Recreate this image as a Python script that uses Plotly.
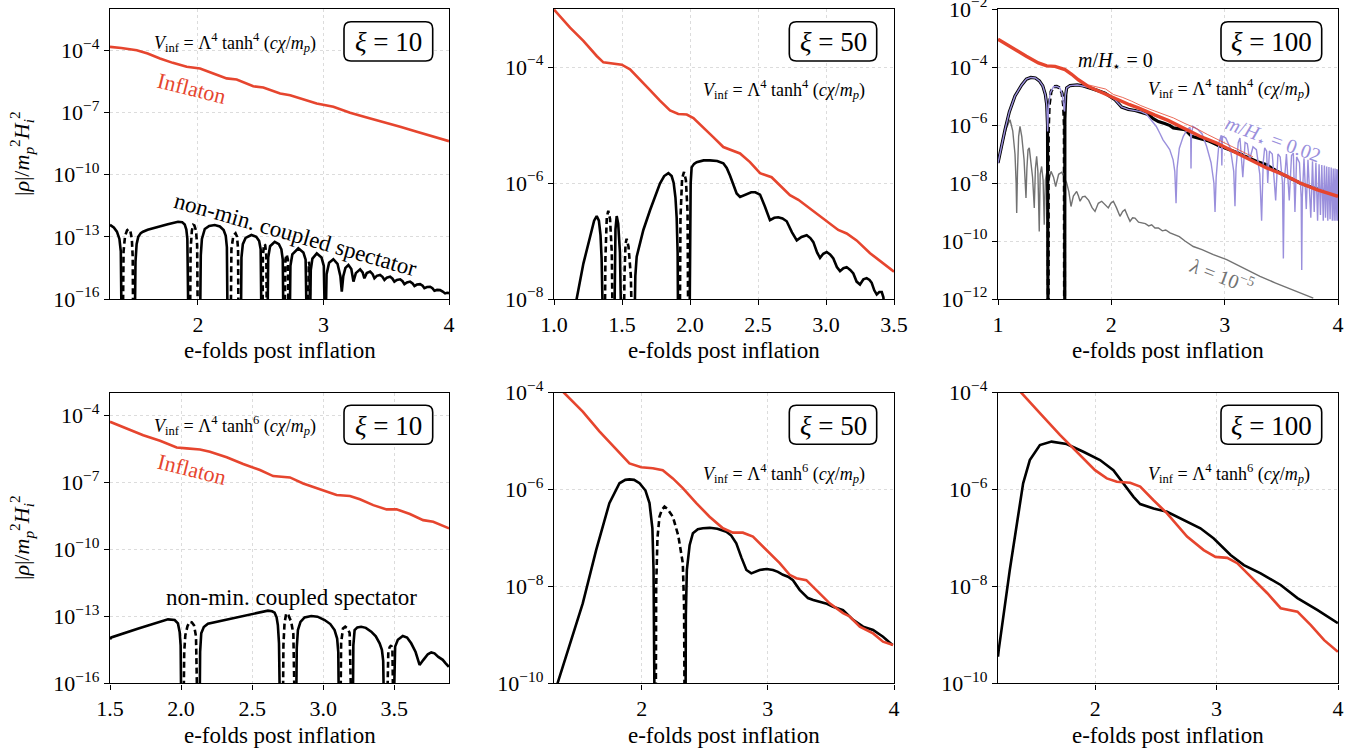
import plotly.graph_objects as go

# ---------------- DATA (x = e-folds, y = log10 |rho|) ----------------
# Panel 1 : tanh^4, xi = 10
p1_inf_x = [1.30, 1.39, 1.513, 1.60, 1.698, 1.80, 1.911, 2.017, 2.123, 2.229, 2.309, 2.441, 2.521, 2.655, 2.735, 2.868, 2.946, 3.079, 3.212, 3.345, 3.478, 3.611, 3.744, 3.876, 4.0]
p1_inf_y = [-3.83, -3.88, -3.99, -4.15, -4.39, -4.60, -4.79, -4.87, -5.11, -5.35, -5.40, -5.73, -5.79, -6.08, -6.16, -6.40, -6.56, -6.72, -7.01, -7.24, -7.45, -7.69, -7.93, -8.17, -8.38]
p1_pos_x = [[1.300, 1.330, 1.355, 1.375, 1.386, 1.392],
            [1.498, 1.503, 1.512, 1.525, 1.545, 1.563, 1.60, 1.682, 1.760, 1.842, 1.875, 1.895, 1.908, 1.916, 1.921, 1.924],
            [2.018, 2.023, 2.032, 2.055, 2.09, 2.134, 2.175, 2.205, 2.222, 2.231, 2.236],
            [2.343, 2.347, 2.358, 2.38, 2.426, 2.465, 2.488, 2.500, 2.506],
            [2.555, 2.560, 2.575, 2.612, 2.645, 2.665, 2.676, 2.681],
            [2.732, 2.737, 2.752, 2.800, 2.840, 2.858, 2.866],
            [2.894, 2.899, 2.912, 2.947, 2.985, 3.003, 3.011],
            [3.018, 3.025, 3.045, 3.079, 3.112, 3.135, 3.146, 3.158, 3.175, 3.199, 3.222, 3.239, 3.258, 3.292, 3.312, 3.326,
             3.345, 3.372, 3.392, 3.406, 3.425, 3.451, 3.470, 3.486, 3.505, 3.531, 3.550, 3.565, 3.585, 3.611, 3.630, 3.645,
             3.665, 3.690, 3.710, 3.725, 3.745, 3.770, 3.790, 3.804, 3.825, 3.850, 3.868, 3.884, 3.905, 3.929, 3.950, 3.969, 3.985, 4.0]]
p1_pos_y = [[-12.42, -12.55, -12.75, -13.1, -13.7, -17],
            [-17, -14.2, -13.35, -13.0, -12.82, -12.75, -12.66, -12.51, -12.39, -12.27, -12.29, -12.40, -12.65, -13.1, -14.2, -17],
            [-17, -13.9, -13.1, -12.62, -12.47, -12.43, -12.50, -12.67, -12.95, -13.5, -17],
            [-17, -14.0, -13.35, -13.05, -12.91, -13.0, -13.2, -13.6, -17],
            [-17, -14.0, -13.45, -13.24, -13.35, -13.6, -14.1, -17],
            [-17, -14.4, -13.85, -13.55, -13.75, -14.1, -17],
            [-17, -14.6, -14.05, -13.80, -14.0, -14.4, -17],
            [-17, -14.8, -14.25, -14.08, -14.3, -14.9, -15.65, -14.9, -14.5, -14.36, -14.55, -15.16, -14.75, -14.57, -14.72, -15.0,
             -14.75, -14.68, -14.8, -15.0, -14.88, -14.84, -14.93, -15.08, -14.97, -14.92, -15.02, -15.16, -15.08, -15.05, -15.14, -15.28,
             -15.2, -15.16, -15.25, -15.37, -15.3, -15.28, -15.36, -15.48, -15.42, -15.41, -15.48, -15.60, -15.56, -15.57, -15.64, -15.73, -15.70, -15.72]]
p1_neg_x = [[1.403, 1.408, 1.420, 1.436, 1.449, 1.462, 1.474, 1.481, 1.484],
            [1.938, 1.942, 1.952, 1.963, 1.972, 1.985, 1.994, 1.999],
            [2.262, 2.267, 2.282, 2.300, 2.312, 2.320, 2.323],
            [2.515, 2.518, 2.527, 2.536, 2.545, 2.549],
            [2.692, 2.697, 2.707, 2.717, 2.722],
            [2.874, 2.878, 2.884, 2.890, 2.893]]
p1_neg_y = [[-17, -13.7, -12.95, -12.68, -12.62, -12.72, -13.1, -14.0, -17],
            [-17, -13.6, -12.7, -12.42, -12.45, -12.7, -13.4, -17],
            [-17, -13.6, -12.95, -12.83, -13.0, -13.6, -17],
            [-17, -13.9, -13.35, -13.4, -13.9, -17],
            [-17, -14.1, -13.85, -14.1, -17],
            [-17, -14.3, -14.2, -14.4, -17]]

# Panel 2 : tanh^4, xi = 50
p2_inf_x = [1.0, 1.118, 1.216, 1.314, 1.363, 1.436, 1.498, 1.559, 1.632, 1.706, 1.779, 1.853, 1.914, 1.976, 2.025, 2.098, 2.171, 2.245, 2.318, 2.368, 2.441, 2.515, 2.600, 2.662, 2.735, 2.797, 2.882, 2.956, 3.029, 3.090, 3.152, 3.225, 3.324, 3.421, 3.5]
p2_inf_y = [-3.01, -3.32, -3.55, -3.81, -3.92, -3.94, -3.96, -4.04, -4.21, -4.40, -4.58, -4.75, -4.81, -4.82, -4.88, -5.04, -5.21, -5.38, -5.44, -5.49, -5.64, -5.83, -5.90, -6.04, -6.21, -6.29, -6.44, -6.56, -6.70, -6.81, -6.87, -6.99, -7.21, -7.39, -7.53]
p2_pos_x = [[1.142, 1.216, 1.265, 1.295, 1.314, 1.330, 1.342, 1.350, 1.356, 1.358],
            [1.441, 1.445, 1.452, 1.461, 1.472, 1.485, 1.493, 1.498],
            [1.588, 1.598, 1.608, 1.630, 1.657, 1.706, 1.745, 1.779, 1.810, 1.841, 1.865, 1.880, 1.893, 1.902, 1.909, 1.914],
            [1.995, 1.999, 2.005, 2.012, 2.030, 2.049, 2.100, 2.147, 2.200, 2.245, 2.270, 2.294, 2.320, 2.343, 2.368, 2.390, 2.417,
             2.450, 2.480, 2.515, 2.550, 2.588, 2.620, 2.649, 2.680, 2.711, 2.750, 2.785, 2.820, 2.858, 2.885, 2.907, 2.935, 2.956,
             2.980, 3.005, 3.030, 3.054, 3.080, 3.103, 3.128, 3.152, 3.178, 3.201, 3.225, 3.250, 3.275, 3.299, 3.320, 3.336, 3.355,
             3.373, 3.392, 3.410, 3.422, 3.430]]
p2_pos_y = [[-8.3, -7.39, -6.93, -6.65, -6.57, -6.65, -6.9, -7.3, -8.0, -9],
            [-9, -7.5, -6.8, -6.57, -6.7, -7.2, -7.8, -9],
            [-9, -7.6, -7.27, -7.05, -6.81, -6.47, -6.22, -6.01, -5.88, -5.83, -5.88, -6.0, -6.25, -6.6, -7.2, -9],
            [-9, -6.6, -6.0, -5.73, -5.67, -5.64, -5.61, -5.61, -5.62, -5.66, -5.74, -5.87, -6.05, -6.18, -6.24, -6.22, -6.19,
             -6.16, -6.16, -6.20, -6.40, -6.64, -6.60, -6.59, -6.61, -6.66, -6.85, -6.99, -6.93, -6.90, -6.95, -7.02, -7.2, -7.29,
             -7.22, -7.19, -7.23, -7.30, -7.45, -7.52, -7.47, -7.45, -7.50, -7.56, -7.70, -7.75, -7.66, -7.64, -7.67, -7.72, -7.85,
             -7.92, -7.88, -7.88, -7.97, -8.2]]
p2_neg_x = [[1.372, 1.378, 1.388, 1.399, 1.412, 1.425, 1.434],
            [1.512, 1.518, 1.526, 1.534, 1.548, 1.565, 1.578],
            [1.924, 1.930, 1.942, 1.956, 1.970, 1.982, 1.988]]
p2_neg_y = [[-9, -7.3, -6.6, -6.48, -6.62, -7.2, -9],
            [-9, -7.6, -7.05, -6.96, -7.1, -7.6, -9],
            [-9, -6.6, -5.92, -5.81, -5.95, -6.5, -9]]

# Panel 3 : tanh^4, xi = 100
p3_inf_x = [1.0, 1.150, 1.250, 1.356, 1.430, 1.503, 1.591, 1.650, 1.709, 1.797, 1.870, 1.944, 2.020, 2.091, 2.160, 2.238, 2.300, 2.380, 2.500, 2.635, 2.782, 2.929, 3.076, 3.224, 3.371, 3.518, 3.665, 3.812, 4.0]
p3_inf_y = [-3.04, -3.40, -3.63, -3.86, -3.96, -3.98, -4.09, -4.25, -4.44, -4.67, -4.80, -4.90, -5.05, -5.19, -5.30, -5.41, -5.52, -5.65, -5.84, -6.10, -6.39, -6.62, -6.91, -7.20, -7.48, -7.71, -8.00, -8.23, -8.46]
p3_inf2_x = [1.80, 1.88, 1.95, 2.02, 2.10, 2.18, 2.26, 2.35, 2.45, 2.55, 2.65, 2.75, 2.85, 2.95, 3.05, 3.15, 3.25]
p3_inf2_y = [-4.62, -4.70, -4.76, -4.95, -5.05, -5.18, -5.33, -5.47, -5.62, -5.76, -5.95, -6.12, -6.33, -6.52, -6.70, -6.90, -7.10]
p3_pos_x = [[1.000, 1.030, 1.062, 1.100, 1.150, 1.209, 1.250, 1.290, 1.330, 1.365, 1.395, 1.418, 1.430, 1.437, 1.441],
            [1.589, 1.590, 1.598, 1.606, 1.635, 1.700, 1.738, 1.800, 1.856, 1.944, 2.032, 2.091, 2.150, 2.209, 2.270, 2.326, 2.370,
             2.415, 2.470, 2.518, 2.547, 2.600, 2.650, 2.709, 2.760, 2.812, 2.860, 2.900, 2.950, 3.003, 3.050, 3.091, 3.140, 3.179,
             3.230, 3.282, 3.330, 3.371, 3.420, 3.459, 3.500, 3.547, 3.600, 3.665, 3.720, 3.782, 3.840, 3.900, 3.950, 4.0]]
p3_pos_y = [[-7.31, -6.7, -6.16, -5.55, -5.0, -4.62, -4.42, -4.36, -4.38, -4.48, -4.65, -4.95, -5.3, -6.0, -12.5],
            [-12.5, -5.8, -4.95, -4.72, -4.64, -4.62, -4.64, -4.70, -4.78, -4.90, -5.13, -5.38, -5.46, -5.50, -5.56, -5.64, -5.78,
             -5.88, -5.95, -6.02, -6.10, -6.13, -6.16, -6.39, -6.44, -6.48, -6.55, -6.62, -6.72, -6.79, -6.86, -6.91, -7.0, -7.08,
             -7.18, -7.26, -7.32, -7.37, -7.50, -7.60, -7.68, -7.77, -7.88, -8.00, -8.09, -8.17, -8.23, -8.29, -8.36, -8.42]]
p3_neg_x = [[1.443, 1.444, 1.452, 1.468, 1.490, 1.518, 1.545, 1.565, 1.578, 1.585, 1.587]]
p3_neg_y = [[-12.5, -6.2, -5.3, -4.85, -4.68, -4.67, -4.72, -4.9, -5.3, -6.0, -12.5]]
p3_mass_x = [1.000, 1.030, 1.062, 1.100, 1.150, 1.209, 1.250, 1.290, 1.330, 1.365, 1.395, 1.418, 1.430, 1.438, 1.446, 1.460,
             1.490, 1.518, 1.545, 1.565, 1.578, 1.587, 1.594, 1.606, 1.635, 1.700, 1.800, 1.944, 2.032, 2.091, 2.150, 2.209,
             2.260, 2.309, 2.356, 2.397, 2.430, 2.456, 2.490, 2.515, 2.545, 2.560, 2.571, 2.580, 2.600, 2.635, 2.670, 2.694,
             2.700, 2.703, 2.707, 2.720, 2.760, 2.800, 2.841, 2.880, 2.905, 2.915, 2.925, 2.950, 2.970, 2.975, 2.981, 3.010,
             3.050, 3.080, 3.091, 3.100, 3.120, 3.135, 3.160, 3.180, 3.200, 3.220, 3.250, 3.280, 3.310, 3.326, 3.340, 3.353,
             3.370, 3.380, 3.395, 3.420, 3.450, 3.470, 3.490, 3.510, 3.518, 3.526, 3.545, 3.570, 3.590, 3.606, 3.620, 3.635,
             3.660, 3.675, 3.680, 3.685, 3.700, 3.720, 3.735, 3.760, 3.775, 3.790, 3.805, 3.820, 3.833, 3.845, 3.857, 3.870,
             3.880, 3.890, 3.900, 3.910, 3.920, 3.930, 3.940, 3.950, 3.958, 3.966, 3.974, 3.982, 3.990, 3.997, 4.0]
p3_mass_y = [-7.31, -6.7, -6.16, -5.55, -5.0, -4.62, -4.42, -4.36, -4.38, -4.48, -4.65, -4.95, -5.3, -6.22, -5.4, -4.9,
             -4.68, -4.67, -4.72, -4.9, -5.2, -5.53, -5.0, -4.72, -4.64, -4.62, -4.70, -4.90, -5.13, -5.38, -5.46, -5.50,
             -5.54, -5.62, -5.85, -6.05, -6.3, -6.51, -6.7, -6.85, -7.2, -7.6, -8.7, -7.5, -6.8, -6.39, -6.15, -6.08,
             -6.3, -7.5, -6.3, -6.05, -6.15, -6.3, -6.74, -7.3, -8.0, -9.0, -7.8, -6.6, -6.35, -7.4, -6.38, -6.45,
             -6.8, -7.6, -8.8, -7.5, -6.6, -6.45, -7.8, -6.6, -6.65, -7.2, -6.75, -6.85, -7.7, -9.3, -7.3, -6.79,
             -6.9, -8.0, -6.9, -7.0, -8.6, -7.0, -7.1, -8.0, -10.6, -8.0, -7.0, -8.6, -7.05, -6.97, -9.0, -7.1,
             -7.3, -8.5, -11.0, -8.5, -7.15, -8.9, -7.2, -9.2, -7.25, -9.0, -7.3, -9.3, -7.35, -9.1, -7.38, -9.3,
             -7.4, -9.2, -7.43, -9.3, -7.45, -9.25, -7.47, -9.3, -7.5, -9.3, -7.5, -9.3, -7.52, -9.3, -7.54]
p3_self_x = [1.000, 1.040, 1.075, 1.106, 1.130, 1.150, 1.160, 1.165, 1.172, 1.182, 1.194, 1.210, 1.230, 1.240, 1.247, 1.255,
             1.265, 1.276, 1.290, 1.305, 1.320, 1.330, 1.341, 1.352, 1.364, 1.372, 1.385, 1.398, 1.408, 1.418, 1.429, 1.444,
             1.468, 1.490, 1.509, 1.535, 1.562, 1.590, 1.606, 1.625, 1.644, 1.665, 1.694, 1.710, 1.724, 1.745, 1.768, 1.800,
             1.830, 1.856, 1.885, 1.915, 1.945, 1.973, 1.995, 2.018, 2.045, 2.076, 2.100, 2.120, 2.145, 2.165, 2.188, 2.209,
             2.240, 2.268, 2.300, 2.330, 2.356, 2.385, 2.415, 2.450, 2.480, 2.518, 2.560, 2.600, 2.650, 2.723, 2.800, 2.900,
             3.018, 3.150, 3.312, 3.450, 3.600, 3.782]
p3_self_y = [-7.31, -6.6, -6.1, -5.82, -6.2, -7.0, -8.0, -9.03, -7.6, -6.4, -6.05, -6.4, -7.2, -7.8, -8.52, -7.5,
             -6.85, -6.79, -7.2, -7.8, -8.86, -7.5, -7.08, -7.6, -9.67, -7.7, -7.43, -7.9, -9.44, -7.9, -7.66, -8.0,
             -7.60, -7.8, -8.12, -7.7, -7.63, -7.85, -8.00, -8.3, -8.81, -8.45, -8.29, -8.45, -8.63, -8.48, -8.46, -8.6,
             -8.85, -8.98, -8.7, -8.63, -8.75, -8.86, -8.7, -8.63, -8.85, -9.15, -8.98, -8.92, -9.15, -9.32, -9.2, -9.21,
             -9.35, -9.38, -9.40, -9.48, -9.44, -9.55, -9.55, -9.65, -9.62, -9.72, -9.80, -9.85, -10.0, -10.19, -10.3, -10.47,
             -10.64, -10.9, -11.22, -11.45, -11.68, -11.97]

# Panel 4 : tanh^6, xi = 10
p4_inf_x = [1.5, 1.617, 1.734, 1.852, 1.969, 2.039, 2.133, 2.203, 2.321, 2.437, 2.555, 2.648, 2.766, 2.859, 2.977, 3.094, 3.188, 3.258, 3.352, 3.446, 3.516, 3.610, 3.703, 3.774, 3.886]
p4_inf_y = [-4.30, -4.60, -4.90, -5.15, -5.45, -5.49, -5.54, -5.64, -5.89, -6.19, -6.46, -6.73, -6.79, -7.06, -7.32, -7.58, -7.62, -7.77, -8.03, -8.22, -8.22, -8.43, -8.70, -8.77, -9.07]
p4_pos_x = [[1.50, 1.509, 1.70, 1.908, 1.955, 1.978, 1.990, 1.997, 2.001],
            [2.131, 2.134, 2.142, 2.160, 2.189, 2.40, 2.611, 2.640, 2.658, 2.672, 2.681, 2.689, 2.695],
            [2.810, 2.814, 2.822, 2.840, 2.869, 2.916, 2.960, 3.010, 3.050, 3.080, 3.098, 3.106, 3.110],
            [3.209, 3.212, 3.221, 3.240, 3.267, 3.300, 3.338, 3.370, 3.397, 3.413, 3.422, 3.427],
            [3.497, 3.500, 3.506, 3.525, 3.560, 3.590, 3.619, 3.650, 3.678, 3.705, 3.736, 3.760, 3.783, 3.810, 3.841, 3.860, 3.884]]
p4_pos_y = [[-14.03, -13.95, -13.55, -13.14, -13.17, -13.32, -13.7, -14.3, -17],
            [-17, -14.6, -13.76, -13.48, -13.33, -13.05, -12.75, -12.78, -12.84, -13.05, -13.4, -14.2, -17],
            [-17, -14.4, -13.62, -13.25, -13.05, -12.99, -13.02, -13.17, -13.35, -13.62, -14.0, -14.6, -17],
            [-17, -14.3, -13.62, -13.50, -13.47, -13.52, -13.69, -13.9, -14.21, -14.5, -15.0, -17],
            [-17, -15.0, -14.36, -14.05, -13.88, -13.95, -14.21, -14.6, -15.18, -14.95, -14.70, -14.62, -14.66, -14.82, -14.95, -15.10, -15.26]]
p4_neg_x = [[2.018, 2.022, 2.030, 2.045, 2.060, 2.076, 2.091, 2.105, 2.114],
            [2.717, 2.720, 2.728, 2.740, 2.755, 2.775, 2.790, 2.799],
            [3.122, 3.126, 3.139, 3.155, 3.172, 3.186, 3.197],
            [3.450, 3.458, 3.467, 3.478, 3.487, 3.492]]
p4_neg_y = [[-17, -14.6, -13.85, -13.45, -13.25, -13.28, -13.40, -13.9, -17],
            [-17, -14.3, -13.3, -12.87, -12.95, -13.25, -13.8, -17],
            [-17, -14.2, -13.55, -13.47, -13.55, -13.75, -17],
            [-17, -14.6, -14.39, -14.3, -14.5, -17]]

# Panel 5 : tanh^6, xi = 50
p5_inf_x = [1.33, 1.387, 1.533, 1.665, 1.798, 1.903, 1.996, 2.088, 2.167, 2.247, 2.326, 2.433, 2.538, 2.644, 2.723, 2.802, 2.882, 2.988, 3.094, 3.173, 3.226, 3.305, 3.384, 3.490, 3.596, 3.649, 3.729, 3.834, 3.913, 3.993]
p5_inf_y = [-3.86, -4.01, -4.39, -4.80, -5.18, -5.46, -5.54, -5.56, -5.60, -5.77, -5.97, -6.28, -6.56, -6.80, -6.89, -6.89, -6.97, -7.25, -7.52, -7.76, -7.83, -7.87, -8.07, -8.35, -8.55, -8.62, -8.83, -8.97, -9.14, -9.21]
p5_pos_x = [[1.321, 1.533, 1.639, 1.744, 1.824, 1.870, 1.903, 1.940, 1.983, 2.030, 2.062, 2.085, 2.094, 2.100, 2.102],
            [2.348, 2.350, 2.358, 2.380, 2.406, 2.445, 2.485, 2.540, 2.600, 2.671, 2.710, 2.750, 2.790, 2.830, 2.869, 2.900, 2.935,
             2.990, 3.041, 3.080, 3.120, 3.160, 3.199, 3.252, 3.318, 3.360, 3.411, 3.460, 3.517, 3.596, 3.676, 3.755, 3.834, 3.913, 3.988]]
p5_pos_y = [[-10.1, -8.35, -7.25, -6.28, -5.87, -5.80, -5.79, -5.80, -5.87, -6.02, -6.28, -6.80, -7.66, -8.6, -10.5],
            [-10.5, -8.6, -7.66, -7.15, -6.90, -6.82, -6.80, -6.79, -6.81, -6.87, -6.95, -7.11, -7.40, -7.66, -7.73, -7.70, -7.66,
             -7.64, -7.66, -7.70, -7.76, -7.80, -7.87, -8.07, -8.24, -8.28, -8.31, -8.35, -8.42, -8.49, -8.69, -8.83, -8.90, -9.04, -9.21]]
p5_neg_x = [[2.112, 2.115, 2.125, 2.141, 2.160, 2.181, 2.205, 2.247, 2.290, 2.326, 2.336, 2.340]]
p5_neg_y = [[-10.5, -8.0, -7.0, -6.56, -6.42, -6.35, -6.40, -6.56, -6.95, -7.52, -8.4, -10.5]]

# Panel 6 : tanh^6, xi = 100
p6_inf_x = [1.30, 1.393, 1.545, 1.710, 1.875, 1.999, 2.096, 2.179, 2.288, 2.371, 2.481, 2.592, 2.757, 2.894, 2.991, 3.088, 3.170, 3.308, 3.418, 3.528, 3.611, 3.666, 3.776, 3.886, 3.999]
p6_inf_y = [-3.75, -4.01, -4.42, -4.87, -5.29, -5.60, -5.77, -5.84, -5.86, -5.94, -6.22, -6.49, -6.97, -7.25, -7.39, -7.41, -7.52, -7.87, -8.14, -8.45, -8.50, -8.52, -8.80, -9.11, -9.35]
p6_spec_x = [1.200, 1.206, 1.297, 1.407, 1.462, 1.545, 1.641, 1.765, 1.903, 2.040, 2.150, 2.233, 2.316, 2.371, 2.481, 2.592, 2.729, 2.867, 2.977, 3.115, 3.225, 3.363, 3.528, 3.666, 3.832, 3.999]
p6_spec_y = [-9.45, -9.31, -7.66, -5.87, -5.39, -5.08, -5.01, -5.06, -5.22, -5.39, -5.60, -5.87, -6.15, -6.30, -6.39, -6.46, -6.63, -6.80, -7.01, -7.35, -7.56, -7.73, -7.97, -8.24, -8.49, -8.76]

# tick labels
x_ticks = {1: [2, 3, 4], 2: [1.0, 1.5, 2.0, 2.5, 3.0, 3.5], 3: [1, 2, 3, 4],
           4: [1.5, 2.0, 2.5, 3.0, 3.5], 5: [2, 3, 4], 6: [2, 3, 4]}
x_tick_text = {1: ["2", "3", "4"], 2: ["1.0", "1.5", "2.0", "2.5", "3.0", "3.5"], 3: ["1", "2", "3", "4"],
               4: ["1.5", "2.0", "2.5", "3.0", "3.5"], 5: ["2", "3", "4"], 6: ["2", "3", "4"]}
y_exps = {1: [-16, -13, -10, -7, -4], 2: [-8, -6, -4], 3: [-12, -10, -8, -6, -4, -2],
          4: [-16, -13, -10, -7, -4], 5: [-10, -8, -6, -4], 6: [-10, -8, -6, -4]}
x_ranges = {1: [1.3, 4.0], 2: [1.0, 3.5], 3: [1.0, 4.0], 4: [1.5, 3.885], 5: [1.305, 4.0], 6: [1.2, 4.0]}
y_ranges = {1: [-16, -2], 2: [-8, -3], 3: [-12, -2], 4: [-16, -3], 5: [-10, -4], 6: [-10, -4]}
xi_labels = {1: "10", 2: "50", 3: "100", 4: "10", 5: "50", 6: "100"}

# ---------------- STYLE ----------------
RED = "#e6452e"
PURPLE = "#9a8fdc"
GRAY = "#727272"
FONT = "Liberation Serif"
W, H = 1371, 751

def lin(v):
    return [None if a is None else 10 ** a for a in v]

def join(segs):
    out = []
    for i, s in enumerate(segs):
        if i:
            out.append(None)
        out.extend(s)
    return out

fig = go.Figure()

def add(k, x, y, color, width, dash="solid"):
    ax = "" if k == 1 else str(k)
    fig.add_trace(go.Scatter(x=x, y=lin(y), mode="lines", xaxis="x" + ax, yaxis="y" + ax,
                             line=dict(color=color, width=width, dash=dash), showlegend=False,
                             hoverinfo="skip", connectgaps=False))

DASH = "6px,3.5px"
# panel 1
add(1, join(p1_pos_x), join(p1_pos_y), "black", 2.6)
add(1, join(p1_neg_x), join(p1_neg_y), "black", 2.6, DASH)
add(1, p1_inf_x, p1_inf_y, RED, 2.6)
# panel 2
add(2, join(p2_pos_x), join(p2_pos_y), "black", 2.6)
add(2, join(p2_neg_x), join(p2_neg_y), "black", 2.6, DASH)
add(2, p2_inf_x, p2_inf_y, RED, 2.6)
# panel 3
add(3, p3_self_x, p3_self_y, GRAY, 1.4)
add(3, join(p3_pos_x), join(p3_pos_y), "black", 3.2)
add(3, join(p3_neg_x), join(p3_neg_y), "black", 3.2, DASH)
add(3, p3_mass_x, p3_mass_y, PURPLE, 1.4)
add(3, p3_inf2_x, p3_inf2_y, RED, 0.8)
add(3, p3_inf_x, p3_inf_y, RED, 3.4)
# panel 4
add(4, join(p4_pos_x), join(p4_pos_y), "black", 2.6)
add(4, join(p4_neg_x), join(p4_neg_y), "black", 2.6, DASH)
add(4, p4_inf_x, p4_inf_y, RED, 2.6)
# panel 5
add(5, join(p5_pos_x), join(p5_pos_y), "black", 2.6)
add(5, join(p5_neg_x), join(p5_neg_y), "black", 2.6, DASH)
add(5, p5_inf_x, p5_inf_y, RED, 2.6)
# panel 6
add(6, p6_spec_x, p6_spec_y, "black", 2.6)
add(6, p6_inf_x, p6_inf_y, RED, 2.6)

# ---------------- LAYOUT ----------------
col_px = [(110, 449), (554, 894), (998, 1338)]
row_px = [(9, 299), (392.7, 683.3)]

def sup(e):
    return "10<sup>" + ("\u2212" + str(-e) if e < 0 else str(e)) + "</sup>"

layout = dict(template="none", width=W, height=H, margin=dict(l=0, r=0, t=0, b=0, pad=0),
              paper_bgcolor="white", plot_bgcolor="white",
              font=dict(family=FONT, color="black", size=18), showlegend=False)
for k in range(1, 7):
    r, c = (k - 1) // 3, (k - 1) % 3
    x0, x1 = col_px[c]
    y0, y1 = row_px[r]
    ax = "" if k == 1 else str(k)
    common = dict(showline=True, linecolor="black", linewidth=1.4, mirror=True, ticks="outside",
                  ticklen=5, tickwidth=1.2, tickcolor="black", showgrid=True, gridcolor="#dcdcdc",
                  griddash="dot", gridwidth=1, zeroline=False, automargin=False,
                  ticklabeloverflow="allow",
                  tickfont=dict(family=FONT, size=22, color="black"))
    layout["xaxis" + ax] = dict(domain=[x0 / W, x1 / W], anchor="y" + ax, range=x_ranges[k],
                                tickmode="array", tickvals=x_ticks[k], ticktext=x_tick_text[k], **common)
    layout["yaxis" + ax] = dict(domain=[1 - y1 / H, 1 - y0 / H], anchor="x" + ax, type="log",
                                range=y_ranges[k], tickmode="array",
                                tickvals=[10 ** e for e in y_exps[k]], ticktext=[sup(e) for e in y_exps[k]], **common)
fig.update_layout(**layout)

ann = []
def text(xp, yp, s, size, color="black", angle=0):
    ann.append(dict(x=xp / W, y=1 - yp / H, xref="paper", yref="paper", text=s, showarrow=False,
                    xanchor="center", yanchor="middle", textangle=angle,
                    font=dict(family=FONT, size=size, color=color)))

VINF4 = "<i>V</i><sub>inf</sub> = Λ<sup>4</sup> tanh<sup>4</sup> (<i>cχ</i>/<i>m<sub>p</sub></i>)"
VINF6 = "<i>V</i><sub>inf</sub> = Λ<sup>4</sup> tanh<sup>6</sup> (<i>cχ</i>/<i>m<sub>p</sub></i>)"
YLAB = "|<i>ρ</i>|/<i>m</i><sub><i>p</i></sub><sup>2</sup><i>H</i><sub><i>i</i></sub><sup>2</sup>"

for c in range(3):
    cx = (col_px[c][0] + col_px[c][1]) / 2
    text(cx, 350, "e-folds post inflation", 23)
    text(cx, 735, "e-folds post inflation", 23)
text(21, 154, YLAB, 22, angle=-90)
text(21, 538, YLAB, 22, angle=-90)

text(235, 43, VINF4, 18)
text(192, 88, "Inflaton", 22, RED, 14)
text(295, 234, "non-min. coupled spectator", 23, angle=16)
text(784, 90, VINF4, 18)
text(1115, 62, "<i>m</i>/<i>H</i><sub>⋆</sub> = 0", 20)
text(1229, 88, VINF4, 18)
text(1273, 140, "<i>m</i>/<i>H</i><sub>⋆</sub> = 0.02", 20, PURPLE, 20)
text(1222, 275, "<i>λ</i> = 10<sup>\u22125</sup>", 20, GRAY, 21)
text(235, 425, VINF6, 18)
text(192, 470, "Inflaton", 22, RED, 14)
text(291, 597, "non-min. coupled spectator", 23)
text(784, 473, VINF6, 18)
text(1229, 473, VINF6, 18)

# rounded boxes with xi labels
boxes = {1: (344, 21.7, 432.7, 61), 2: (789.3, 21.7, 876.7, 61), 3: (1221, 21.7, 1321.7, 61),
         4: (344, 405.3, 432.7, 444.3), 5: (789.3, 405.3, 876.7, 444.3), 6: (1221, 405.3, 1321.7, 444.3)}
shapes = []
R = 7
for k, (bx0, by0, bx1, by1) in boxes.items():
    X = lambda v: v / W
    Y = lambda v: 1 - v / H
    p = (f"M {X(bx0 + R)},{Y(by0)} L {X(bx1 - R)},{Y(by0)} Q {X(bx1)},{Y(by0)} {X(bx1)},{Y(by0 + R)} "
         f"L {X(bx1)},{Y(by1 - R)} Q {X(bx1)},{Y(by1)} {X(bx1 - R)},{Y(by1)} "
         f"L {X(bx0 + R)},{Y(by1)} Q {X(bx0)},{Y(by1)} {X(bx0)},{Y(by1 - R)} "
         f"L {X(bx0)},{Y(by0 + R)} Q {X(bx0)},{Y(by0)} {X(bx0 + R)},{Y(by0)} Z")
    shapes.append(dict(type="path", path=p, xref="paper", yref="paper",
                       line=dict(color="black", width=1.6), fillcolor="white", layer="above"))
    text((bx0 + bx1) / 2, (by0 + by1) / 2 + 1, "<i>ξ</i> = " + xi_labels[k], 27)

fig.update_layout(annotations=ann, shapes=shapes)
fig.write_html("out.html", config={"displayModeBar": False},
               post_script="document.body.style.margin='0px';document.body.style.padding='0px';"
                           "document.documentElement.style.overflow='hidden';")
